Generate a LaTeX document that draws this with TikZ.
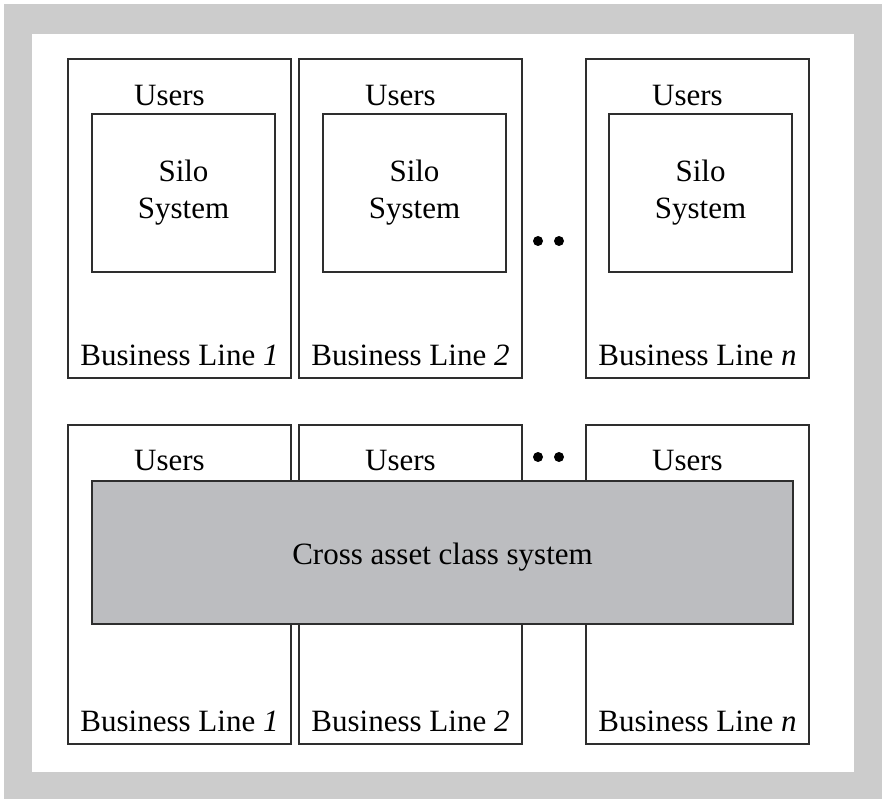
\documentclass[tikz,border=0pt]{standalone}
\usepackage{fontspec}
\setmainfont{Liberation Serif}
\usetikzlibrary{positioning, calc}
\definecolor{framegray}{HTML}{CCCCCC}
\definecolor{crossgray}{HTML}{BCBDC0}
\definecolor{linegray}{HTML}{2E2E2E}

\begin{document}
\begin{tikzpicture}[x=1pt, y=-1pt,
    lineBox/.style={draw=linegray, line width=1.2pt, fill=white, minimum width=223pt, minimum height=319pt, inner sep=0pt},
    siloBox/.style={draw=linegray, line width=1.2pt, minimum width=183pt, minimum height=158pt, inner sep=0pt, align=center, font=\fontsize{31}{37}\selectfont},
    crossBox/.style={draw=linegray, line width=1.2pt, fill=crossgray, minimum width=701pt, minimum height=143pt, inner sep=0pt},
    lbl/.style={font=\fontsize{31}{37}\selectfont, inner sep=0pt, anchor=base},
    dot/.style={circle, fill=black, minimum size=10pt, inner sep=0pt}
]
    % Frame
    \useasboundingbox (0,0) rectangle (882,799);
    \fill[white] (0,0) rectangle (882,799);
    \fill[framegray] (4,4) rectangle (882,799);
    \fill[white] (32,34) rectangle (854,772);

    % Silo systems
    \node[lineBox] (b1) at (179.5,218.5) {};
    \node[lineBox] (b2) at (410.5,218.5) {};
    \node[lineBox] (bn) at (697.5,218.5) {};

    \node[siloBox, below right=55pt and 24pt of b1.north west] (s1) {Silo\\System};
    \node[siloBox, below right=55pt and 24pt of b2.north west] (s2) {Silo\\System};
    \node[siloBox, below right=55pt and 23pt of bn.north west] (sn) {Silo\\System};

    \node[lbl] (u1) at ($(b1.north)+(-10,47)$) {Users};
    \node[lbl] (u2) at ($(b2.north)+(-10,47)$) {Users};
    \node[lbl] (un) at ($(bn.north)+(-10,47)$) {Users};

    \node[lbl] (t1) at ($(b1.south)+(0,-13)$) {Business Line \textit{1}};
    \node[lbl] (t2) at ($(b2.south)+(0,-13)$) {Business Line \textit{2}};
    \node[lbl] (tn) at ($(bn.south)+(0,-13)$) {Business Line \textit{n}};

    \node[dot] (d1) at (538,241) {};
    \node[dot] (d2) at (559,241) {};

    % Cross asset class system
    \node[lineBox] (c1) at (179.5,584.5) {};
    \node[lineBox] (c2) at (410.5,584.5) {};
    \node[lineBox] (cn) at (697.5,584.5) {};

    \node[crossBox] (cross) at (442.5,552.5) {};
    \node[lbl] (crossText) at ($(cross.center)+(0,11.5)$) {Cross asset class system};

    \node[lbl] (v1) at ($(c1.north)+(-10,46)$) {Users};
    \node[lbl] (v2) at ($(c2.north)+(-10,46)$) {Users};
    \node[lbl] (vn) at ($(cn.north)+(-10,46)$) {Users};

    \node[lbl] (w1) at ($(c1.south)+(0,-13)$) {Business Line \textit{1}};
    \node[lbl] (w2) at ($(c2.south)+(0,-13)$) {Business Line \textit{2}};
    \node[lbl] (wn) at ($(cn.south)+(0,-13)$) {Business Line \textit{n}};

    \node[dot] (e1) at (538,457) {};
    \node[dot] (e2) at (559,457) {};
\end{tikzpicture}
\end{document}
